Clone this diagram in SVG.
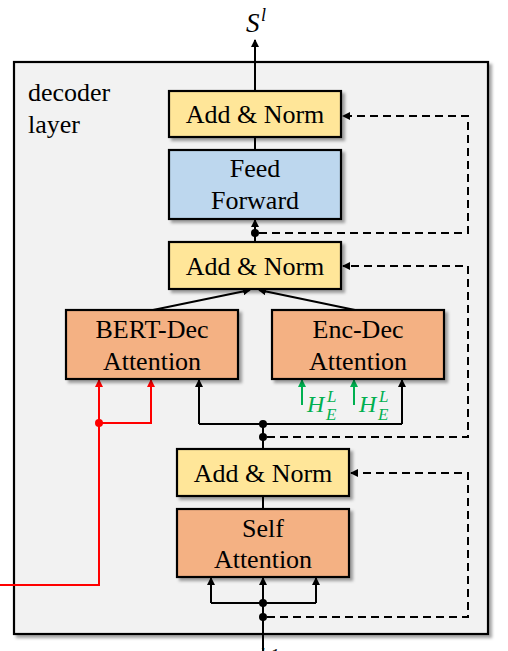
<svg xmlns="http://www.w3.org/2000/svg" width="508" height="651" viewBox="0 0 508 651">
<defs>
<filter id="sh" x="-10%" y="-10%" width="130%" height="140%">
<feDropShadow dx="3" dy="3" stdDeviation="1.5" flood-color="#000" flood-opacity="0.35"/>
</filter>
<marker id="ak" markerWidth="8" markerHeight="8" refX="7" refY="4" orient="auto" markerUnits="userSpaceOnUse">
<path d="M0,0 L8,4 L0,8 Z" fill="#000"/>
</marker>
<marker id="ar" markerWidth="8" markerHeight="8" refX="7" refY="4" orient="auto" markerUnits="userSpaceOnUse">
<path d="M0,0 L8,4 L0,8 Z" fill="#f00"/>
</marker>
<marker id="ag" markerWidth="8" markerHeight="8" refX="7" refY="4" orient="auto" markerUnits="userSpaceOnUse">
<path d="M0,0 L8,4 L0,8 Z" fill="#00b050"/>
</marker>
</defs>
<style>
.box{stroke:#000;stroke-width:2.2;filter:url(#sh)}
.an{fill:#ffe699}
.ff{fill:#bdd7ee}
.at{fill:#f4b183}
.t{font-family:"Liberation Serif","Times New Roman",serif;font-size:26px;fill:#000;text-anchor:middle}
.tl{font-family:"Liberation Serif","Times New Roman",serif;font-size:26px;fill:#000}
.ln{stroke:#000;stroke-width:2;fill:none}
.ds{stroke:#000;stroke-width:2;fill:none;stroke-dasharray:8 5}
.rd{stroke:#f00;stroke-width:2;fill:none}
.gr{stroke:#00b050;stroke-width:2;fill:none}
.m{font-family:"Liberation Serif","Times New Roman",serif;font-style:italic}
</style>
<rect width="508" height="651" fill="#fff"/>
<g id="layer">
<rect x="14" y="62" width="474" height="572" fill="#f2f2f2" stroke="#000" stroke-width="2.2" filter="url(#sh)"/>
<text class="tl" x="28" y="101">decoder</text>
<text class="tl" x="28" y="133">layer</text>
</g>
<g id="connectors">
<line class="ln" x1="255" y1="91" x2="255" y2="40" marker-end="url(#ak)"/>
<line class="ln" x1="255" y1="137" x2="255" y2="150"/>
<line class="ln" x1="255" y1="242" x2="255" y2="220" marker-end="url(#ak)"/>
<circle cx="255" cy="233" r="4" fill="#000"/>
<path class="ds" d="M259,233 H468 V116 H343" marker-end="url(#ak)"/>
<line class="ln" x1="153" y1="310" x2="250" y2="290" marker-end="url(#ak)"/>
<line class="ln" x1="355" y1="310" x2="259" y2="290" marker-end="url(#ak)"/>
<path class="ln" d="M263,449 V424"/>
<path class="ln" d="M199,424 H402"/>
<path class="ln" d="M199,424 V380" marker-end="url(#ak)"/>
<path class="ln" d="M402,424 V380" marker-end="url(#ak)"/>
<circle cx="263" cy="424" r="4" fill="#000"/>
<circle cx="263" cy="437" r="4" fill="#000"/>
<path class="ds" d="M267,437 H468 V266 H343" marker-end="url(#ak)"/>
<path class="ln" d="M263,496 V509"/>
<path class="ln" d="M263,651 V578" marker-end="url(#ak)"/>
<path class="ln" d="M211,603 H316"/>
<path class="ln" d="M211,603 V578" marker-end="url(#ak)"/>
<path class="ln" d="M316,603 V578" marker-end="url(#ak)"/>
<circle cx="263" cy="603" r="4" fill="#000"/>
<circle cx="263" cy="617" r="4" fill="#000"/>
<path class="ds" d="M267,617 H468 V473 H351" marker-end="url(#ak)"/>
<path class="rd" d="M0,585 H99 V380" marker-end="url(#ar)"/>
<path class="rd" d="M99,423 H151 V380" marker-end="url(#ar)"/>
<circle cx="99" cy="423" r="4" fill="#f00"/>
<line class="gr" x1="302" y1="405" x2="302" y2="380" marker-end="url(#ag)"/>
<line class="gr" x1="354" y1="405" x2="354" y2="380" marker-end="url(#ag)"/>
</g>
<g id="addnorm1">
<rect class="box an" x="169" y="91" width="172" height="46"/>
<text class="t" x="255" y="123">Add &amp; Norm</text>
</g>
<g id="feedforward">
<rect class="box ff" x="169" y="150" width="172" height="69"/>
<text class="t" x="255" y="177">Feed</text>
<text class="t" x="255" y="209">Forward</text>
</g>
<g id="addnorm2">
<rect class="box an" x="169" y="242" width="172" height="47"/>
<text class="t" x="255" y="275">Add &amp; Norm</text>
</g>
<g id="bertdec">
<rect class="box at" x="66" y="310" width="172" height="69"/>
<text class="t" x="152" y="338">BERT-Dec</text>
<text class="t" x="152" y="370">Attention</text>
</g>
<g id="encdec">
<rect class="box at" x="272" y="310" width="172" height="69"/>
<text class="t" x="358" y="338">Enc-Dec</text>
<text class="t" x="358" y="370">Attention</text>
</g>
<g id="addnorm3">
<rect class="box an" x="177" y="449" width="172" height="47"/>
<text class="t" x="263" y="482">Add &amp; Norm</text>
</g>
<g id="selfatt">
<rect class="box at" x="177" y="509" width="172" height="68"/>
<text class="t" x="263" y="537">Self</text>
<text class="t" x="263" y="568">Attention</text>
</g>
<g id="labels">
<text class="m" x="246" y="32" font-size="27">S</text>
<text class="m" x="261" y="21" font-size="18">l</text>
<text class="m" x="307" y="412" font-size="24" fill="#00b050">H</text>
<text class="m" x="327" y="402" font-size="17" fill="#00b050">L</text>
<text class="m" x="326" y="420" font-size="17" fill="#00b050">E</text>
<text class="m" x="359" y="412" font-size="24" fill="#00b050">H</text>
<text class="m" x="379" y="402" font-size="17" fill="#00b050">L</text>
<text class="m" x="378" y="420" font-size="17" fill="#00b050">E</text>
<text class="m" x="242" y="668" font-size="26">S</text>
<text class="m" x="260" y="660" font-size="17">l-1</text>
</g>
</svg>
